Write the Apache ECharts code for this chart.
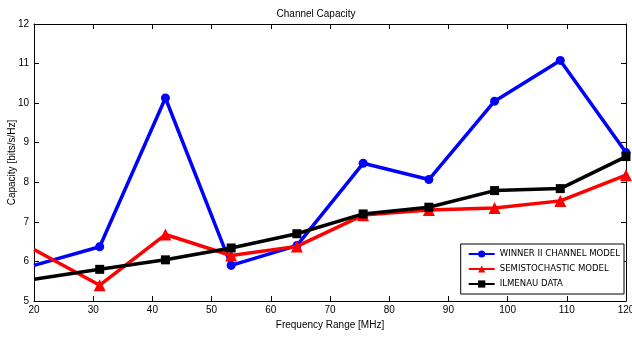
<!DOCTYPE html>
<html>
<head>
<meta charset="utf-8">
<script src="https://cdn.jsdelivr.net/npm/echarts@6/dist/echarts.min.js"></script>
<style>
  html, body { margin: 0; padding: 0; background: #fff; }
  #chart { width: 632px; height: 338px; }
</style>
</head>
<body>
<div id="chart"></div>
<script>
// frequency points (MHz)
const freq = [20, 31.1, 42.2, 53.3, 64.4, 75.6, 86.7, 97.8, 108.9, 120];
const winner = [5.9, 6.37, 10.13, 5.9, 6.4, 8.48, 8.07, 10.05, 11.08, 8.75];
const semi = [6.3, 5.4, 6.68, 6.15, 6.38, 7.17, 7.3, 7.35, 7.53, 8.18];
const ilmenau = [5.55, 5.8, 6.04, 6.34, 6.7, 7.2, 7.37, 7.79, 7.84, 8.65];

const font = "'Liberation Sans', Arial, sans-serif";
const legendFont = "'DejaVu Sans Condensed', 'Liberation Sans', sans-serif";

const chart = echarts.init(document.getElementById('chart'));

function pts(vals) {
  // first point sits on the axis edge, drawn without a marker
  return vals.map((v, i) => i === 0
    ? { value: [freq[i], v], symbol: 'none' }
    : [freq[i], v]);
}

const axisCommon = {
  axisLine: { show: true, lineStyle: { color: '#000', width: 1 } },
  axisTick: { show: true, inside: true, length: 5, lineStyle: { color: '#000' } },
  splitLine: { show: false },
};

chart.setOption({
  animation: false,
  textStyle: { fontFamily: font },
  title: {
    text: 'Channel Capacity',
    left: 'center',
    top: 4,
    textStyle: { fontSize: 10, fontWeight: 'normal', color: '#000', fontFamily: font },
  },
  grid: { left: 34, right: 6, top: 24, bottom: 37, outerBoundsMode: 'none' },
  legend: {
    orient: 'vertical',
    right: 8,
    bottom: 44,
    padding: [4, 4, 4, 7],
    itemGap: 3,
    itemWidth: 26,
    itemHeight: 9,
    backgroundColor: '#fff',
    borderColor: '#000',
    borderWidth: 1,
    textStyle: { fontSize: 9.5, lineHeight: 12, color: '#000', fontFamily: legendFont },
    data: ['WINNER II CHANNEL MODEL', 'SEMISTOCHASTIC MODEL', 'ILMENAU DATA'],
  },
  xAxis: [
    Object.assign({
      type: 'value',
      min: 20, max: 120, interval: 10,
      name: 'Frequency Range [MHz]',
      nameLocation: 'middle',
      nameGap: 19,
      nameMoveOverlap: false,
      nameTextStyle: { fontSize: 10, color: '#000' },
      axisLabel: { fontSize: 10, color: '#000', margin: 4 },
    }, axisCommon),
    Object.assign({
      type: 'value', position: 'top',
      min: 20, max: 120, interval: 10,
      axisLabel: { show: false },
    }, axisCommon),
  ],
  yAxis: [
    Object.assign({
      type: 'value',
      min: 5, max: 12, interval: 1,
      name: 'Capacity [bits/s/Hz]',
      nameLocation: 'middle',
      nameGap: 17,
      nameMoveOverlap: false,
      nameTextStyle: { fontSize: 10, color: '#000' },
      axisLabel: { fontSize: 10, color: '#000', margin: 5 },
    }, axisCommon),
    Object.assign({
      type: 'value', position: 'right',
      min: 5, max: 12, interval: 1,
      axisLabel: { show: false },
    }, axisCommon),
  ],
  series: [
    {
      name: 'WINNER II CHANNEL MODEL', type: 'line',
      data: pts(winner),
      symbol: 'circle', symbolSize: 9,
      lineStyle: { color: '#0000ff', width: 3.5 },
      itemStyle: { color: '#0000ff' },
      z: 3,
    },
    {
      name: 'SEMISTOCHASTIC MODEL', type: 'line',
      data: pts(semi),
      symbol: 'triangle', symbolSize: 12,
      lineStyle: { color: '#ff0000', width: 3.5 },
      itemStyle: { color: '#ff0000' },
      z: 4,
    },
    {
      name: 'ILMENAU DATA', type: 'line',
      data: pts(ilmenau),
      symbol: 'rect', symbolSize: 9,
      lineStyle: { color: '#000', width: 3.5 },
      itemStyle: { color: '#000' },
      z: 5,
    },
  ],
});
</script>
</body>
</html>
